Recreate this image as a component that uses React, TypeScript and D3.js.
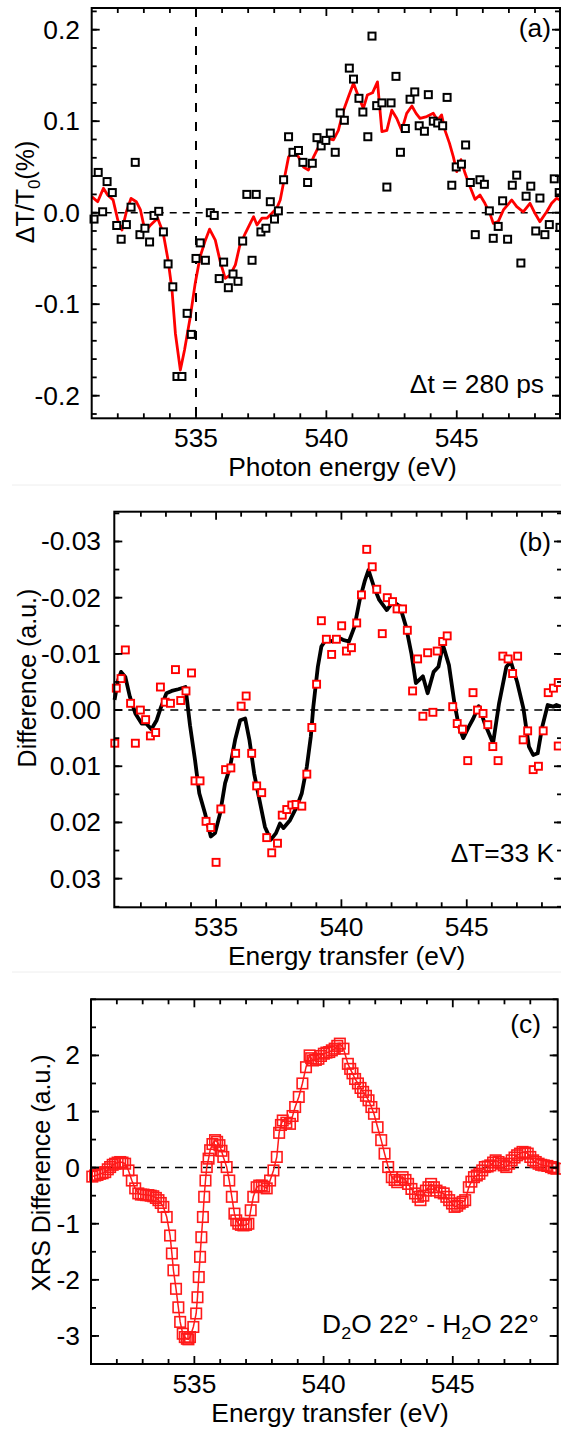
import React from 'react';
import * as d3 from 'd3';

// ---- panel (a): transient transmission, squares + smoothed red line ----
const aDotE = [531.09, 531.25, 531.42, 531.59, 531.79, 531.96, 532.13, 532.33, 532.51, 532.67, 532.85, 533.04, 533.22, 533.39, 533.57, 533.75, 533.93, 534.11, 534.27, 534.46, 534.66, 534.82, 535.0, 535.16, 535.36, 535.55, 535.7, 535.89, 536.06, 536.24, 536.42, 536.61, 536.79, 536.95, 537.15, 537.31, 537.49, 537.68, 537.85, 538.01, 538.16, 538.36, 538.55, 538.72, 538.93, 539.1, 539.28, 539.46, 539.64, 539.8, 539.98, 540.15, 540.34, 540.53, 540.69, 540.88, 541.04, 541.25, 541.4, 541.59, 541.75, 541.93, 542.13, 542.32, 542.48, 542.67, 542.84, 543.03, 543.21, 543.39, 543.56, 543.76, 543.91, 544.1, 544.27, 544.46, 544.63, 544.81, 544.98, 545.18, 545.34, 545.52, 545.71, 545.89, 546.06, 546.25, 546.4, 546.59, 546.76, 546.95, 547.13, 547.3, 547.46, 547.66, 547.84, 548.03, 548.19, 548.38, 548.55, 548.74, 548.93, 548.96];
const aDotV = [-0.007, 0.044, 0.001, 0.034, 0.022, -0.014, -0.029, -0.013, 0.006, 0.055, -0.024, -0.017, -0.032, -0.003, 0.0015, -0.021, -0.056, -0.081, -0.179, -0.179, -0.11, -0.133, -0.05, -0.033, -0.052, 0.0, -0.003, -0.072, -0.054, -0.082, -0.067, -0.075, -0.031, 0.02, -0.052, 0.02, -0.021, -0.017, 0.012, -0.007, 0.002, 0.036, 0.083, 0.066, 0.068, 0.055, 0.033, 0.054, 0.082, 0.073, 0.079, 0.087, 0.066, 0.109, 0.101, 0.158, 0.146, 0.125, 0.11, 0.083, 0.193, 0.117, 0.12, 0.028, 0.12, 0.149, 0.066, 0.092, 0.124, 0.132, 0.095, 0.089, 0.129, 0.1, 0.098, 0.095, 0.126, 0.03, 0.05, 0.053, 0.074, 0.033, -0.024, 0.036, 0.031, 0.002, -0.028, -0.015, 0.013, -0.029, 0.03, 0.041, -0.055, 0.018, 0.029, -0.02, 0.016, -0.024, -0.013, 0.037, 0.022, -0.016];
const aLineE = [531.0, 531.23, 531.45, 531.61, 531.82, 532.0, 532.16, 532.33, 532.51, 532.71, 532.87, 532.98, 533.1, 533.26, 533.53, 533.74, 533.93, 534.08, 534.21, 534.4, 534.56, 534.78, 534.97, 535.16, 535.36, 535.52, 535.74, 535.93, 536.12, 536.31, 536.51, 536.67, 536.89, 537.08, 537.21, 537.34, 537.53, 537.72, 537.91, 538.1, 538.23, 538.4, 538.55, 538.74, 538.93, 539.12, 539.31, 539.51, 539.7, 539.89, 540.08, 540.27, 540.46, 540.66, 540.85, 541.04, 541.23, 541.42, 541.57, 541.77, 541.96, 542.13, 542.32, 542.51, 542.7, 542.89, 543.08, 543.28, 543.44, 543.59, 543.85, 544.1, 544.26, 544.42, 544.55, 544.72, 544.87, 545.0, 545.16, 545.32, 545.51, 545.7, 545.89, 546.08, 546.27, 546.4, 546.59, 546.79, 547.11, 547.3, 547.55, 547.81, 548.0, 548.19, 548.45, 548.64, 548.83, 548.96];
const aLineV = [0.0175, 0.012, 0.0267, 0.0193, 0.014, -0.008, -0.019, 0.001, 0.0157, 0.012, 0.003, -0.0116, -0.019, -0.0134, -0.006, -0.022, -0.052, -0.0845, -0.132, -0.172, -0.15, -0.114, -0.077, -0.048, -0.03, -0.018, -0.03, -0.0535, -0.0717, -0.068, -0.057, -0.037, -0.0225, -0.0116, -0.0044, -0.0134, -0.006, -0.006, -0.0007, 0.005, 0.0139, 0.039, 0.061, 0.067, 0.061, 0.05, 0.0467, 0.061, 0.072, 0.076, 0.081, 0.0795, 0.09, 0.112, 0.127, 0.1414, 0.127, 0.114, 0.1286, 0.131, 0.143, 0.0885, 0.09, 0.112, 0.103, 0.09, 0.1086, 0.1166, 0.1086, 0.103, 0.105, 0.1086, 0.101, 0.1068, 0.09, 0.076, 0.061, 0.0448, 0.058, 0.043, 0.0284, 0.0146, 0.0193, 0.0103, -0.0007, -0.0116, -0.0098, 0.003, 0.0139, 0.0066, 0.001, 0.0103, -0.0007, -0.0098, 0.001, 0.0103, 0.0157, 0.0139];

// ---- panel (b): difference, red squares + black line (inverted y) ----
const bDotE = [530.96, 531.02, 531.21, 531.38, 531.59, 531.78, 531.98, 532.19, 532.38, 532.59, 532.78, 532.97, 533.18, 533.38, 533.59, 533.8, 534.02, 534.16, 534.36, 534.6, 534.79, 535.0, 535.19, 535.38, 535.59, 535.78, 536.0, 536.2, 536.42, 536.62, 536.82, 537.02, 537.22, 537.45, 537.64, 537.82, 538.02, 538.19, 538.42, 538.62, 538.82, 539.01, 539.2, 539.4, 539.61, 539.8, 540.01, 540.2, 540.4, 540.61, 540.8, 541.01, 541.23, 541.41, 541.63, 541.83, 542.04, 542.22, 542.44, 542.63, 542.84, 543.04, 543.25, 543.44, 543.65, 543.82, 544.04, 544.22, 544.44, 544.62, 544.83, 545.04, 545.25, 545.43, 545.65, 545.84, 546.04, 546.25, 546.44, 546.65, 546.83, 547.03, 547.25, 547.43, 547.65, 547.86, 548.05, 548.25, 548.46, 548.65, 548.65];
const bDotV = [0.0059, -0.0039, -0.0056, -0.0107, -0.0012, 0.0059, 0.0, 0.0017, 0.0046, 0.004, -0.0041, -0.0014, -0.0012, -0.0072, -0.0017, -0.0034, -0.0066, 0.0126, 0.0126, 0.0198, 0.0209, 0.0271, 0.0176, 0.0106, 0.0103, 0.0077, -0.0007, -0.0025, 0.0077, 0.0135, 0.0147, 0.0227, 0.0254, 0.0237, 0.0187, 0.0177, 0.0169, 0.0168, 0.0171, 0.0114, 0.0031, -0.0046, -0.0159, -0.0126, -0.0099, -0.0126, -0.015, -0.0105, -0.0111, -0.0155, -0.0205, -0.0286, -0.0255, -0.0215, -0.0136, -0.02, -0.0193, -0.018, -0.018, -0.0142, -0.0034, -0.0091, 0.0011, -0.0102, 0.0004, -0.0105, -0.0122, -0.0132, -0.0006, 0.0024, 0.0034, 0.009, -0.0031, 0.0, 0.0006, 0.0026, 0.0065, 0.009, -0.0096, -0.0091, -0.0065, -0.0096, 0.0053, 0.0037, 0.0106, 0.01, 0.0037, -0.0031, -0.0039, -0.0049, 0.0064];
const bLineE = [530.95, 531.09, 531.21, 531.38, 531.56, 531.78, 532.03, 532.21, 532.42, 532.63, 532.81, 533.02, 533.23, 533.49, 533.78, 533.96, 534.16, 534.33, 534.56, 534.79, 534.96, 535.16, 535.36, 535.56, 535.76, 535.96, 536.16, 536.33, 536.52, 536.73, 536.95, 537.18, 537.39, 537.55, 537.69, 537.95, 538.22, 538.42, 538.62, 538.78, 538.88, 538.94, 539.06, 539.2, 539.38, 539.63, 539.83, 540.06, 540.3, 540.52, 540.73, 540.94, 541.08, 541.3, 541.51, 541.81, 542.06, 542.34, 542.58, 542.79, 542.97, 543.25, 543.44, 543.68, 543.87, 544.05, 544.29, 544.51, 544.69, 544.86, 545.08, 545.26, 545.48, 545.72, 546.05, 546.29, 546.58, 546.76, 547.01, 547.26, 547.48, 547.65, 547.83, 548.01, 548.23, 548.45, 548.58, 548.76];
const bLineV = [-0.0018, -0.0053, -0.0068, -0.0059, -0.0024, 0.0006, 0.0024, 0.0024, 0.0034, 0.0018, -0.0006, -0.003, -0.0034, -0.0037, -0.0041, 0.0027, 0.0089, 0.0148, 0.0184, 0.0225, 0.0219, 0.0184, 0.013, 0.0101, 0.0053, 0.0018, 0.0015, 0.0053, 0.0113, 0.016, 0.0208, 0.0231, 0.0219, 0.0202, 0.021, 0.0196, 0.0172, 0.0148, 0.0101, 0.0047, -0.0006, -0.003, -0.0077, -0.0113, -0.0125, -0.0122, -0.013, -0.0125, -0.0122, -0.0148, -0.0196, -0.0231, -0.0249, -0.0219, -0.0196, -0.0178, -0.0193, -0.0184, -0.0148, -0.0101, -0.0048, -0.006, -0.003, -0.0068, -0.0077, -0.0116, -0.008, -0.0012, 0.003, 0.005, 0.003, 0.0015, -0.0007, 0.0024, 0.0059, -0.0012, -0.0077, -0.0086, -0.005, -0.0003, 0.0065, 0.008, 0.0077, 0.003, -0.0009, -0.0006, -0.0009, -0.0006];

// ---- panel (c): XRS difference, open red squares ----
const cE = [531.05, 531.16, 531.25, 531.35, 531.45, 531.55, 531.65, 531.74, 531.84, 531.93, 532.03, 532.13, 532.22, 532.32, 532.45, 532.58, 532.71, 532.83, 532.93, 533.03, 533.13, 533.22, 533.31, 533.41, 533.51, 533.61, 533.7, 533.8, 533.93, 534.06, 534.13, 534.19, 534.29, 534.38, 534.45, 534.55, 534.63, 534.71, 534.77, 534.83, 534.96, 535.07, 535.12, 535.17, 535.22, 535.27, 535.33, 535.38, 535.43, 535.48, 535.55, 535.61, 535.7, 535.8, 535.88, 535.97, 536.05, 536.12, 536.25, 536.35, 536.45, 536.55, 536.62, 536.7, 536.8, 536.9, 537.0, 537.09, 537.18, 537.28, 537.41, 537.51, 537.61, 537.7, 537.8, 537.93, 538.06, 538.19, 538.28, 538.35, 538.42, 538.56, 538.7, 538.8, 538.9, 539.04, 539.18, 539.32, 539.46, 539.52, 539.59, 539.7, 539.8, 539.9, 540.01, 540.11, 540.22, 540.32, 540.43, 540.53, 540.63, 540.77, 540.94, 541.03, 541.12, 541.22, 541.33, 541.43, 541.53, 541.64, 541.74, 541.85, 541.95, 542.09, 542.23, 542.36, 542.5, 542.64, 542.75, 542.85, 542.95, 543.06, 543.17, 543.27, 543.4, 543.54, 543.65, 543.75, 543.86, 543.96, 544.06, 544.16, 544.27, 544.37, 544.51, 544.65, 544.75, 544.86, 544.97, 545.07, 545.17, 545.27, 545.38, 545.48, 545.62, 545.72, 545.82, 545.93, 546.03, 546.14, 546.24, 546.35, 546.45, 546.56, 546.66, 546.77, 546.87, 546.97, 547.07, 547.18, 547.28, 547.39, 547.49, 547.6, 547.7, 547.8, 547.9, 548.0, 548.11, 548.21, 548.32, 548.42, 548.52, 548.66, 548.8, 548.9, 549.01];
const cV = [-0.16, -0.14, -0.13, -0.11, -0.1, -0.08, -0.03, 0.01, 0.05, 0.07, 0.09, 0.1, 0.09, 0.07, -0.05, -0.23, -0.37, -0.46, -0.48, -0.48, -0.49, -0.49, -0.5, -0.51, -0.54, -0.58, -0.63, -0.7, -0.88, -1.21, -1.53, -1.83, -2.16, -2.49, -2.75, -2.96, -3.02, -3.05, -3.06, -3.02, -2.84, -2.6, -2.31, -1.95, -1.59, -1.24, -0.88, -0.52, -0.23, 0.01, 0.16, 0.31, 0.42, 0.49, 0.46, 0.4, 0.3, 0.19, 0.01, -0.23, -0.52, -0.82, -0.94, -1.0, -1.02, -1.03, -1.02, -1.0, -0.76, -0.52, -0.35, -0.32, -0.32, -0.34, -0.37, -0.23, -0.05, 0.19, 0.62, 0.76, 0.84, 0.8, 0.78, 0.92, 1.08, 1.26, 1.5, 1.79, 2.0, 1.95, 1.91, 1.92, 1.94, 1.99, 2.03, 2.05, 2.06, 2.09, 2.12, 2.17, 2.21, 2.12, 1.85, 1.76, 1.68, 1.58, 1.5, 1.42, 1.35, 1.28, 1.2, 1.08, 0.96, 0.72, 0.49, 0.25, 0.01, -0.17, -0.22, -0.26, -0.22, -0.17, -0.22, -0.29, -0.38, -0.46, -0.52, -0.58, -0.5, -0.41, -0.35, -0.29, -0.35, -0.41, -0.44, -0.46, -0.52, -0.58, -0.64, -0.7, -0.68, -0.64, -0.61, -0.58, -0.35, -0.25, -0.17, -0.14, -0.11, -0.05, 0.01, 0.02, 0.04, 0.09, 0.13, 0.1, 0.07, 0.04, 0.01, 0.07, 0.13, 0.18, 0.22, 0.25, 0.28, 0.27, 0.25, 0.19, 0.13, 0.1, 0.07, 0.05, 0.04, 0.03, 0.01, -0.01, -0.02];

// ---- ticks ----
const xMajor = [535, 540, 545];
const xMajorLabels = ['535', '540', '545'];
const aYTicks = [-0.2, -0.1, 0, 0.1, 0.2];
const aYLabels = ['-0.2', '-0.1', '0.0', '0.1', '0.2'];
const bYTicks = [-0.03, -0.02, -0.01, 0, 0.01, 0.02, 0.03];
const bYLabels = ['-0.03', '-0.02', '-0.01', '0.00', '0.01', '0.02', '0.03'];
const cYTicks = [-3, -2, -1, 0, 1, 2];
const cYLabels = ['-3', '-2', '-1', '0', '1', '2'];

const FONT = '"Liberation Sans", Arial, Helvetica, sans-serif';
const FS = 25;

const HText = ({x, y, anchor = 'middle', children}: any) => (
    <text transform={`translate(${x},${y}) scale(1.055,1)`} textAnchor={anchor} fontSize={FS}>{children}</text>
);

const Frame = ({x, y, yTicks, yLabels, yMinor, labelRight, tickBase}: any) => {
    const [l, r] = x.range();
    const yr = y.range();
    const t = Math.min(yr[0], yr[1]), b = Math.max(yr[0], yr[1]);
    const xMinor = d3.range(532, 549).filter(v => !xMajor.includes(v));
    return (
        <g stroke="#000" strokeWidth={1.8}>
            {xMinor.map(v => (
                <g key={'xm' + v}>
                    <line x1={x(v)} x2={x(v)} y1={b} y2={b - 5}/>
                    <line x1={x(v)} x2={x(v)} y1={t} y2={t + 5}/>
                </g>
            ))}
            {xMajor.map(v => (
                <g key={'xM' + v}>
                    <line x1={x(v)} x2={x(v)} y1={b} y2={b - 8}/>
                    <line x1={x(v)} x2={x(v)} y1={t} y2={t + 8}/>
                </g>
            ))}
            {yMinor.map((v: number) => (
                <g key={'ym' + v}>
                    <line x1={l} x2={l + 5} y1={y(v)} y2={y(v)}/>
                    <line x1={r} x2={r - 5} y1={y(v)} y2={y(v)}/>
                </g>
            ))}
            {yTicks.map((v: number) => (
                <g key={'yM' + v}>
                    <line x1={l} x2={l + 8} y1={y(v)} y2={y(v)}/>
                    <line x1={r} x2={r - 8} y1={y(v)} y2={y(v)}/>
                </g>
            ))}
            <rect x={l} y={t} width={r - l} height={b - t} fill="none" strokeWidth={2}/>
            <g stroke="none" fill="#000">
                {yTicks.map((v: number, i: number) => (
                    <HText key={'yl' + v} x={labelRight} y={y(v) + 9} anchor="end">{yLabels[i]}</HText>
                ))}
                {xMajor.map((v, i) => (
                    <HText key={'xl' + v} x={x(v)} y={tickBase}>{xMajorLabels[i]}</HText>
                ))}
            </g>
        </g>
    );
};

const squares = (xs: number[], ys: number[], x: any, y: any, size: number, color: string, sw: number, fill: string) =>
    xs.map((e, i) => (
        <rect key={i} x={x(e) - size / 2} y={y(ys[i]) - size / 2} width={size} height={size}
              fill={fill} stroke={color} strokeWidth={sw}/>
    ));

export default function App() {
    // panel (a)
    const xA = d3.scaleLinear().domain([531, 548.96]).range([91.7, 560]);
    const yA = d3.scaleLinear().domain([-0.2247, 0.2237]).range([418.3, 8]);
    // panel (b), y inverted
    const xB = d3.scaleLinear().domain([530.94, 548.8]).range([114.3, 562]);
    const yB = d3.scaleLinear().domain([-0.0353, 0.0351]).range([511.7, 907.3]);
    // panel (c)
    const xC = d3.scaleLinear().domain([531, 549.06]).range([91, 557.7]);
    const yC = d3.scaleLinear().domain([-3.5, 3]).range([1364, 999.3]);

    const lineA = d3.line<number>().x((d, i) => xA(aLineE[i])).y(d => yA(d));
    const lineB = d3.line<number>().x((d, i) => xB(bLineE[i])).y(d => yB(d));
    const lineC = d3.line<number>().x((d, i) => xC(cE[i])).y(d => yC(d));

    return (
        <svg width={561} height={1435} style={{position: 'absolute', left: 0, top: 0, background: '#fff'}}
             fontFamily={FONT}>
            <rect width={561} height={1435} fill="#fff"/>
            <line x1={12} x2={561} y1={485} y2={485} stroke="#eeeeee" strokeWidth={1}/>
            <line x1={12} x2={561} y1={972} y2={972} stroke="#eeeeee" strokeWidth={1}/>

            {/* (a) */}
            <line x1={91.7} x2={560} y1={yA(0)} y2={yA(0)} stroke="#000" strokeWidth={1.5} strokeDasharray="7,6"/>
            <line x1={xA(535)} x2={xA(535)} y1={8} y2={418.3} stroke="#000" strokeWidth={2} strokeDasharray="9,10"/>
            <path d={lineA(aLineV) || ''} fill="none" stroke="#ff0000" strokeWidth={2.8} strokeLinejoin="round"/>
            {squares(aDotE, aDotV, xA, yA, 7, '#000', 2, '#fff')}
            <Frame x={xA} y={yA} yTicks={aYTicks} yLabels={aYLabels}
                   yMinor={d3.range(-11, 12).map(i => +(i * 0.02).toFixed(2))} labelRight={80} tickBase={447}/>
            <HText x={342.5} y={476}>Photon energy (eV)</HText>
            <text transform="translate(34,192) rotate(-90)" textAnchor="middle" fontSize={FS}>
                ΔT/T<tspan fontSize={17} dy={6}>0</tspan><tspan dy={-6}>(%)</tspan>
            </text>
            <HText x={551} y={37} anchor="end">(a)</HText>
            <HText x={544} y={393} anchor="end">Δt = 280 ps</HText>

            {/* (b) */}
            <line x1={114.3} x2={562} y1={yB(0)} y2={yB(0)} stroke="#000" strokeWidth={1.5} strokeDasharray="8,6"/>
            <path d={lineB(bLineV) || ''} fill="none" stroke="#000" strokeWidth={3.8} strokeLinejoin="round"/>
            {squares(bDotE, bDotV, xB, yB, 7, '#ff0000', 1.9, '#fff')}
            <Frame x={xB} y={yB} yTicks={bYTicks} yLabels={bYLabels}
                   yMinor={d3.range(-7, 8).map(i => +(i * 0.005).toFixed(3))} labelRight={101} tickBase={936}/>
            <HText x={346.7} y={965}>Energy transfer (eV)</HText>
            <text transform="translate(36,678) rotate(-90)" textAnchor="middle" fontSize={FS}>Difference (a.u.)</text>
            <HText x={551} y={551} anchor="end">(b)</HText>
            <HText x={554} y={862} anchor="end">ΔT=33 K</HText>

            {/* (c) */}
            <line x1={91} x2={557.7} y1={yC(0)} y2={yC(0)} stroke="#000" strokeWidth={1.5} strokeDasharray="8,6"/>
            <path d={lineC(cV) || ''} fill="none" stroke="#ff1a1a" strokeWidth={1.5}/>
            {squares(cE, cV, xC, yC, 10.5, '#ff1a1a', 1.6, 'none')}
            <Frame x={xC} y={yC} yTicks={cYTicks} yLabels={cYLabels}
                   yMinor={d3.range(-7, 7).map(i => i * 0.5)} labelRight={80} tickBase={1393}/>
            <HText x={330} y={1422}>Energy transfer (eV)</HText>
            <text transform="translate(50,1173) rotate(-90)" textAnchor="middle" fontSize={FS}>XRS Difference (a.u.)</text>
            <HText x={541} y={1033} anchor="end">(c)</HText>
            <HText x={539} y={1333} anchor="end">
                D<tspan fontSize={17} dy={6}>2</tspan><tspan dy={-6}>O 22° - H</tspan><tspan fontSize={17} dy={6}>2</tspan><tspan dy={-6}>O 22°</tspan>
            </HText>
        </svg>
    );
}
